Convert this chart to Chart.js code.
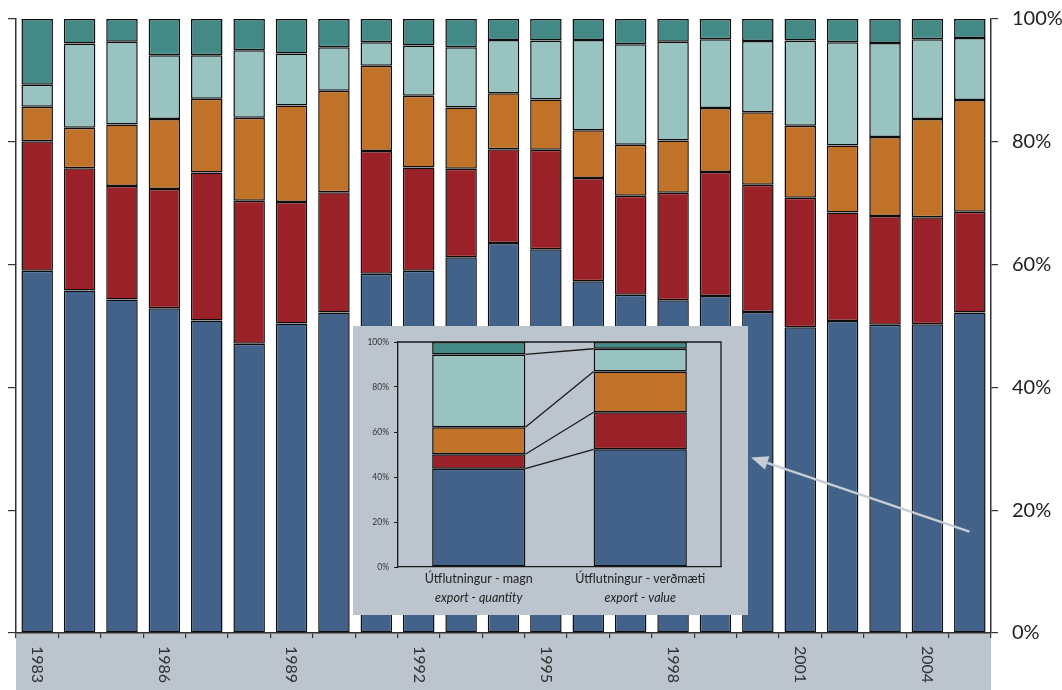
<!DOCTYPE html>
<html>
<head>
<meta charset="utf-8">
<script src="https://cdn.jsdelivr.net/npm/chart.js@4.4.0/dist/chart.umd.min.js"></script>
<style>
  html, body { margin: 0; padding: 0; background: #fff; }
  #wrap { position: relative; width: 1062px; height: 690px; overflow: hidden; }
  #main { position: absolute; left: 0; top: 0; }
  #inset { position: absolute; left: 353px; top: 326px; background: #bcc4cd; }
</style>
</head>
<body>
<div id="wrap">
  <canvas id="main" width="1062" height="690"></canvas>
  <canvas id="inset" width="395" height="289"></canvas>
</div>
<script>
// main chart data (percent shares, bottom to top)
const years = ['1983','1984','1985','1986','1987','1988','1989','1990','1991','1992','1993','1994',
               '1995','1996','1997','1998','1999','2000','2001','2002','2003','2004','2005'];
const labelYears = ['1983','1986','1989','1992','1995','1998','2001','2004'];
const blue   = [59.0,55.8,54.3,52.9,50.9,47.1,50.4,52.2,58.5,59.0,61.2,63.5,62.5,57.3,55.1,54.2,54.9,52.3,49.8,50.8,50.2,50.3,52.2];
const red    = [21.1,19.9,18.5,19.4,24.1,23.3,19.8,19.6,20.0,16.8,14.4,15.3,16.2,16.8,16.1,17.5,20.2,20.7,21.1,17.7,17.7,17.4,16.4];
const orange = [5.6,6.6,10.0,11.4,12.0,13.5,15.7,16.5,13.9,11.7,10.0,9.1,8.2,7.8,8.3,8.5,10.4,11.8,11.7,10.9,12.9,16.0,18.2];
const light  = [3.6,13.7,13.5,10.4,7.1,11.0,8.5,7.1,3.8,8.2,9.8,8.7,9.6,14.7,16.4,16.1,11.2,11.6,13.9,16.8,15.3,13.0,10.1];
const teal   = [10.7,4.0,3.7,5.9,5.9,5.1,5.6,4.6,3.8,4.3,4.6,3.4,3.5,3.4,4.1,3.7,3.3,3.6,3.5,3.8,3.9,3.3,3.1];

// inset data
const insetCats   = ['Útflutningur - magn', 'Útflutningur - verðmæti'];
const insetCatsEn = ['export - quantity', 'export - value'];
const insetBlue   = [43.7, 52.3];
const insetRed    = [6.4, 16.5];
const insetOrange = [12.0, 18.1];
const insetLight  = [32.4, 10.1];
const insetTeal   = [5.5, 3.0];

// arrow annotation, in (category index, percent)
const arrowFrom = [21.99, 16.5];
const arrowTo   = [16.84, 28.6];

const colors = ['#42628a', '#9b2129', '#c07228', '#98c3c0', '#438985'];
const GREY = '#bcc4cd';

function sets(arrs) {
  return arrs.map((d, i) => ({
    data: d,
    backgroundColor: colors[i],
    borderColor: '#0d0d0d',
    borderWidth: 1.5,
    borderSkipped: false
  }));
}

// keep tick labels from pushing the plot area around
function noPad(s) {
  s.paddingTop = 0;
  s.paddingBottom = 0;
}

const mainPlugin = {
  id: 'mainExtras',
  beforeDraw(chart) {
    const { ctx, chartArea: a, height } = chart;
    ctx.save();
    ctx.fillStyle = GREY;
    ctx.fillRect(a.left, a.bottom, a.right - a.left, height - a.bottom);
    ctx.restore();
  },
  afterDraw(chart) {
    const { ctx, chartArea: a, scales } = chart;
    ctx.save();
    ctx.font = '16px Lato';
    ctx.fillStyle = '#333';
    ctx.textAlign = 'left';
    ctx.textBaseline = 'middle';
    labelYears.forEach(y => {
      const x = scales.x.getPixelForValue(years.indexOf(y));
      ctx.save();
      ctx.translate(x, a.bottom + 13);
      ctx.rotate(Math.PI / 2);
      ctx.fillText(y, 0, 0);
      ctx.restore();
    });

    // arrow pointing at the inset
    const x1 = scales.x.getPixelForValue(arrowFrom[0]), y1 = scales.y.getPixelForValue(arrowFrom[1]);
    const x2 = scales.x.getPixelForValue(arrowTo[0]), y2 = scales.y.getPixelForValue(arrowTo[1]);
    const ang = Math.atan2(y2 - y1, x2 - x1);
    const L = 17, W = 7;
    const bx = x2 - L * Math.cos(ang), by = y2 - L * Math.sin(ang);
    ctx.strokeStyle = '#c6cdd5';
    ctx.fillStyle = '#c6cdd5';
    ctx.lineWidth = 2.5;
    ctx.beginPath();
    ctx.moveTo(x1, y1);
    ctx.lineTo(bx, by);
    ctx.stroke();
    ctx.beginPath();
    ctx.moveTo(x2, y2);
    ctx.lineTo(bx + W * Math.sin(ang), by - W * Math.cos(ang));
    ctx.lineTo(bx - W * Math.sin(ang), by + W * Math.cos(ang));
    ctx.closePath();
    ctx.fill();
    ctx.restore();
  }
};

new Chart(document.getElementById('main'), {
  type: 'bar',
  data: { labels: years, datasets: sets([blue, red, orange, light, teal]) },
  options: {
    responsive: false,
    animation: false,
    layout: { padding: { top: 19, left: 8, right: 0, bottom: 0 } },
    plugins: { legend: { display: false }, tooltip: { enabled: false } },
    datasets: { bar: { barPercentage: 0.743, categoryPercentage: 1 } },
    scales: {
      x: {
        stacked: true,
        ticks: { display: false },
        grid: { drawOnChartArea: false, tickLength: 5, color: '#333', lineWidth: 1.2, offset: true },
        border: { color: '#333', width: 1.5 },
        afterFit(s) { s.height = 57; s.paddingLeft = 0; s.paddingRight = 0; }
      },
      y: {
        stacked: true,
        position: 'left',
        min: 0, max: 100,
        ticks: { display: false, stepSize: 20 },
        grid: { drawOnChartArea: false, tickLength: 8, color: '#333', lineWidth: 1.2 },
        border: { color: '#333', width: 1.5 },
        afterFit(s) { s.width = 8; noPad(s); }
      },
      yR: {
        position: 'right',
        min: 0, max: 100,
        ticks: {
          stepSize: 20, padding: 14, color: '#222',
          font: { family: 'Lato', size: 20 },
          callback: v => v + '%'
        },
        grid: { drawOnChartArea: false, tickLength: 7, color: '#333', lineWidth: 1.2 },
        border: { color: '#333', width: 1.5 },
        afterFit(s) { s.width = 71; noPad(s); }
      }
    }
  },
  plugins: [mainPlugin]
});

const insetPlugin = {
  id: 'insetExtras',
  afterDraw(chart) {
    const { ctx, chartArea: a, scales } = chart;
    ctx.save();
    ctx.strokeStyle = '#1a1a1a';
    ctx.lineWidth = 1.3;
    ctx.beginPath();
    ctx.moveTo(a.left, a.top);
    ctx.lineTo(a.right, a.top);
    ctx.lineTo(a.right, a.bottom);
    ctx.stroke();

    // connectors between segment tops of the two bars
    for (let k = 0; k < 4; k++) {
      const e = chart.getDatasetMeta(k).data;
      ctx.beginPath();
      ctx.moveTo(e[0].x + e[0].width / 2, e[0].y);
      ctx.lineTo(e[1].x - e[1].width / 2, e[1].y);
      ctx.stroke();
    }

    ctx.fillStyle = '#222';
    ctx.textAlign = 'center';
    ctx.textBaseline = 'middle';
    insetCats.forEach((c, i) => {
      const x = scales.x.getPixelForValue(i);
      ctx.font = '12.5px Lato';
      ctx.fillText(c, x, a.bottom + 12);
      ctx.font = 'italic 12.5px Lato';
      ctx.fillText(insetCatsEn[i], x, a.bottom + 31);
    });
    ctx.restore();
  }
};

new Chart(document.getElementById('inset'), {
  type: 'bar',
  data: { labels: insetCats, datasets: sets([insetBlue, insetRed, insetOrange, insetLight, insetTeal]) },
  options: {
    responsive: false,
    animation: false,
    layout: { padding: { top: 16, left: 0, right: 27, bottom: 0 } },
    plugins: { legend: { display: false }, tooltip: { enabled: false } },
    datasets: { bar: { barPercentage: 0.577, categoryPercentage: 1 } },
    scales: {
      x: {
        stacked: true,
        ticks: { display: false },
        grid: { display: false },
        border: { color: '#1a1a1a', width: 1.3 },
        afterFit(s) { s.height = 48; s.paddingLeft = 0; s.paddingRight = 0; }
      },
      y: {
        stacked: true,
        min: 0, max: 100,
        ticks: {
          stepSize: 20, padding: 5, color: '#333',
          font: { family: 'Lato', size: 8.5 },
          callback: v => v + '%'
        },
        grid: { drawOnChartArea: false, tickLength: 4, color: '#1a1a1a', lineWidth: 1 },
        border: { color: '#1a1a1a', width: 1.3 },
        afterFit(s) { s.width = 45; noPad(s); }
      }
    }
  },
  plugins: [insetPlugin]
});
</script>
</body>
</html>
